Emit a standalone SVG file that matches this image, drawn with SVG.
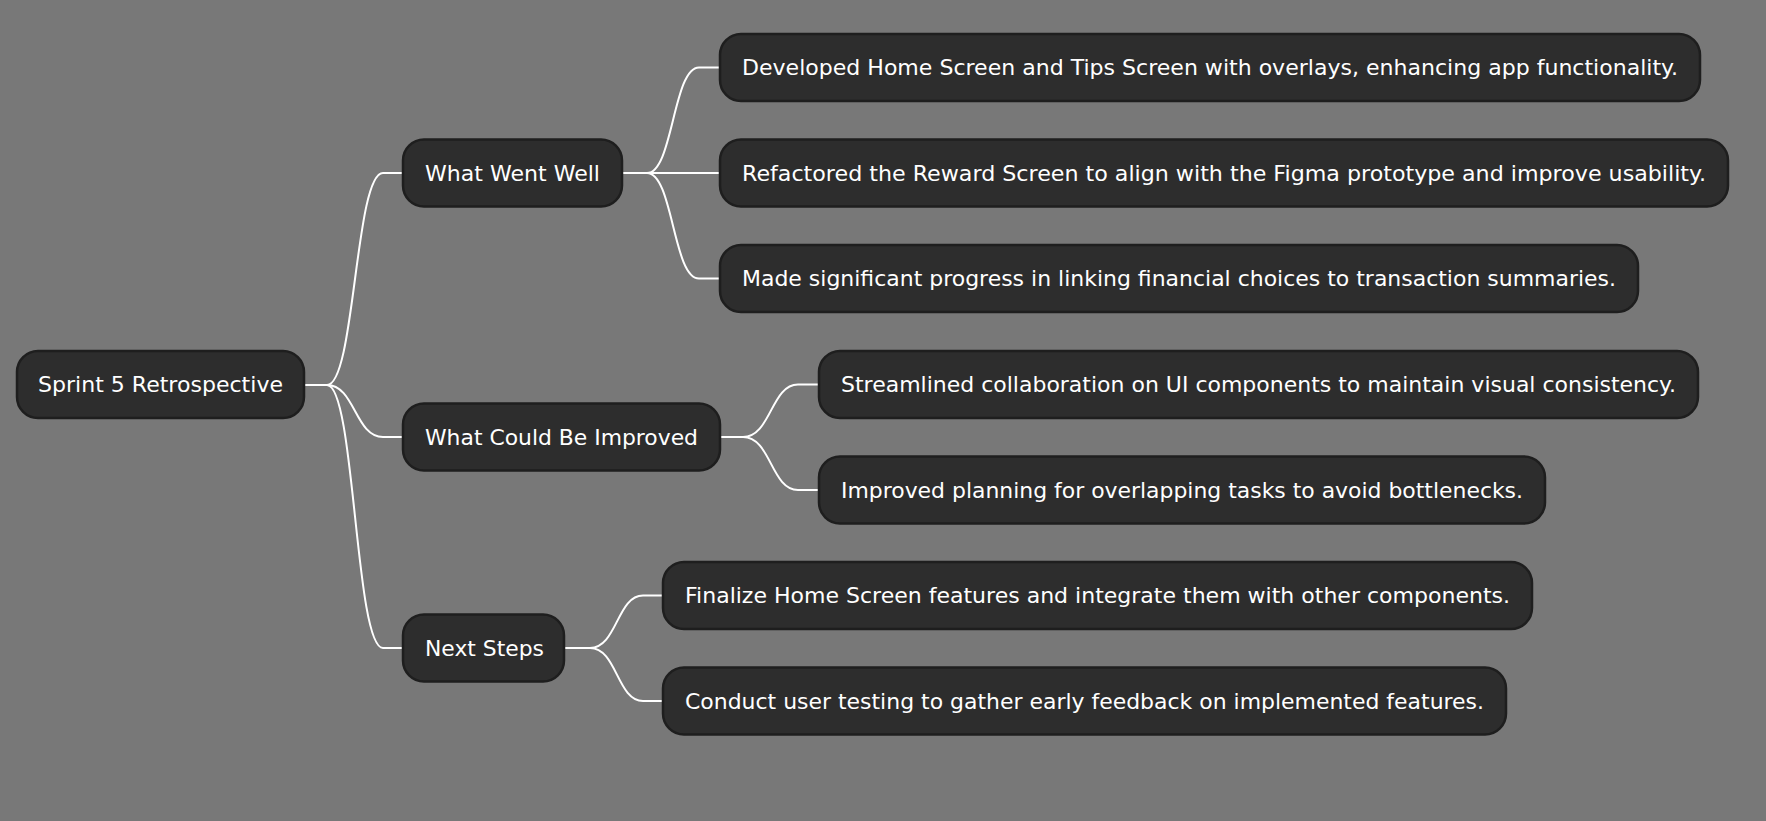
<svg xmlns="http://www.w3.org/2000/svg" width="1766" height="821" viewBox="0 0 1766 821">
<style>
.n rect{fill:#2d2d2d;stroke:#1e1e1e;stroke-width:2.5}
.n text{fill:#ffffff;font-family:"DejaVu Sans",Verdana,sans-serif;font-size:22px}
.c path{fill:none;stroke:#ffffff;stroke-width:2}
</style>
<rect x="0" y="0" width="1766" height="821" fill="#787878"/>
<g class="c" id="connectors">
<path d="M304,385 L327,385 C355,385 355,173 383,173 L403,173"/>
<path d="M304,385 L327,385 C355,385 355,437 383,437 L403,437"/>
<path d="M304,385 L327,385 C355,385 355,648 383,648 L403,648"/>
<path d="M622,173 L647,173 C673,173 673,67.5 699,67.5 L720,67.5"/>
<path d="M622,173 L720,173"/>
<path d="M622,173 L647,173 C673,173 673,278.5 699,278.5 L720,278.5"/>
<path d="M720,437 L743,437 C771,437 771,384.5 798,384.5 L819,384.5"/>
<path d="M720,437 L743,437 C771,437 771,490 798,490 L819,490"/>
<path d="M564,648 L590,648 C617,648 617,595.5 643,595.5 L663,595.5"/>
<path d="M564,648 L590,648 C617,648 617,701 643,701 L663,701"/>
</g>
<g class="n" id="root"><rect x="17" y="351" width="287" height="67" rx="21"/><text x="38" y="392" textLength="245" lengthAdjust="spacingAndGlyphs">Sprint 5 Retrospective</text></g>
<g class="n" id="went-well"><rect x="403" y="139.5" width="219" height="67" rx="21"/><text x="425" y="180.5" textLength="175" lengthAdjust="spacingAndGlyphs">What Went Well</text></g>
<g class="n" id="improve"><rect x="403" y="403.5" width="317" height="67" rx="21"/><text x="425" y="444.5" textLength="273" lengthAdjust="spacingAndGlyphs">What Could Be Improved</text></g>
<g class="n" id="next"><rect x="403" y="614.5" width="161" height="67" rx="21"/><text x="425" y="655.5" textLength="119" lengthAdjust="spacingAndGlyphs">Next Steps</text></g>
<g class="n" id="l1"><rect x="720" y="34" width="980" height="67" rx="21"/><text x="742" y="75" textLength="936" lengthAdjust="spacingAndGlyphs">Developed Home Screen and Tips Screen with overlays, enhancing app functionality.</text></g>
<g class="n" id="l2"><rect x="720" y="139.5" width="1008" height="67" rx="21"/><text x="742" y="180.5" textLength="964" lengthAdjust="spacingAndGlyphs">Refactored the Reward Screen to align with the Figma prototype and improve usability.</text></g>
<g class="n" id="l3"><rect x="720" y="245" width="918" height="67" rx="21"/><text x="742" y="286" textLength="874" lengthAdjust="spacingAndGlyphs">Made significant progress in linking financial choices to transaction summaries.</text></g>
<g class="n" id="l4"><rect x="819" y="351" width="879" height="67" rx="21"/><text x="841" y="392" textLength="835" lengthAdjust="spacingAndGlyphs">Streamlined collaboration on UI components to maintain visual consistency.</text></g>
<g class="n" id="l5"><rect x="819" y="456.5" width="726" height="67" rx="21"/><text x="841" y="497.5" textLength="682" lengthAdjust="spacingAndGlyphs">Improved planning for overlapping tasks to avoid bottlenecks.</text></g>
<g class="n" id="l6"><rect x="663" y="562" width="869" height="67" rx="21"/><text x="685" y="603" textLength="825" lengthAdjust="spacingAndGlyphs">Finalize Home Screen features and integrate them with other components.</text></g>
<g class="n" id="l7"><rect x="663" y="667.5" width="843" height="67" rx="21"/><text x="685" y="708.5" textLength="799" lengthAdjust="spacingAndGlyphs">Conduct user testing to gather early feedback on implemented features.</text></g>
</svg>
